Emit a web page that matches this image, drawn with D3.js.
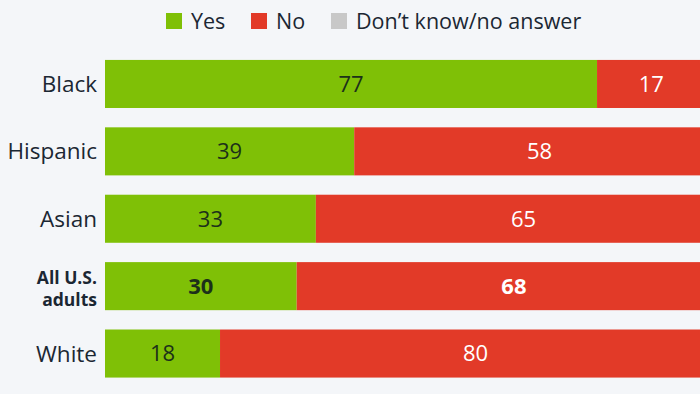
<!DOCTYPE html>
<html>
<head>
<meta charset="utf-8">
<script src="https://cdn.jsdelivr.net/npm/d3@7"></script>
<style>
  body { margin: 0; background: #f4f6f9; overflow: hidden; }
  svg { display: block; font-family: "Open Sans", sans-serif; }
</style>
</head>
<body>
<script>
// Chart data
var groups = ["Black", "Hispanic", "Asian", "All U.S. adults", "White"];
var yesValues = [77, 39, 33, 30, 18];
var noValues = [17, 58, 65, 68, 80];
var dkValues = [6, 3, 2, 2, 2];
var legendLabels = ["Yes", "No", "Don\u2019t know/no answer"];

var colors = ["#7fc006", "#e23a28", "#c8c8c8"];

var svgWidth = 700;
var svgHeight = 394;

var svg = d3.select("body")
  .append("svg")
  .attr("width", svgWidth)
  .attr("height", svgHeight);

// the plot runs past the right edge, as in the picture
var xScale = d3.scaleLinear()
  .domain([0, 100])
  .range([105, 744]);

var yScale = d3.scaleBand()
  .domain(groups)
  .range([50.5, 387])
  .paddingInner(0.287)
  .paddingOuter(0.14);

var rows = groups.map(function(g, i) {
  return { group: g, Yes: yesValues[i], No: noValues[i], DK: dkValues[i] };
});

var stack = d3.stack().keys(["Yes", "No", "DK"]);
var series = stack(rows);

var layers = svg.selectAll(".layer")
  .data(series)
  .enter()
  .append("g")
  .attr("fill", (d, i) => colors[i]);

layers.selectAll("rect")
  .data(d => d)
  .enter()
  .append("rect")
  .attr("x", d => xScale(d[0]))
  .attr("y", d => yScale(d.data.group))
  .attr("width", d => xScale(d[1]) - xScale(d[0]))
  .attr("height", yScale.bandwidth());

// value labels for Yes and No
series.slice(0, 2).forEach(function(s, si) {
  svg.selectAll(".val" + si)
    .data(s)
    .enter()
    .append("text")
    .attr("x", d => (xScale(d[0]) + xScale(d[1])) / 2)
    .attr("y", d => yScale(d.data.group) + yScale.bandwidth() / 2)
    .attr("dy", "0.36em")
    .attr("text-anchor", "middle")
    .style("font-size", "22px")
    .style("font-weight", d => d.data.group === "All U.S. adults" ? 700 : 400)
    .attr("fill", si === 0 ? "#1c301a" : "#ffffff")
    .text(d => d[1] - d[0]);
});

// category labels
groups.forEach(function(g) {
  var cy = yScale(g) + yScale.bandwidth() / 2;
  if (g === "All U.S. adults") {
    var t = svg.append("text")
      .attr("x", 97)
      .attr("y", cy)
      .attr("text-anchor", "end")
      .attr("fill", "#1b2733")
      .style("font-size", "17.5px")
      .style("font-weight", 700);
    t.append("tspan").attr("x", 97).attr("dy", "-0.14em").text("All U.S.");
    t.append("tspan").attr("x", 97).attr("dy", "1.3em").text("adults");
  } else {
    svg.append("text")
      .attr("x", 97)
      .attr("y", cy)
      .attr("dy", "0.36em")
      .attr("text-anchor", "end")
      .attr("fill", "#1b2733")
      .style("font-size", "22.5px")
      .text(g);
  }
});

// legend
var legendX = [166, 251, 331];
legendLabels.forEach(function(l, i) {
  svg.append("rect")
    .attr("x", legendX[i])
    .attr("y", 13)
    .attr("width", 16)
    .attr("height", 16)
    .attr("fill", colors[i]);
  svg.append("text")
    .attr("x", legendX[i] + 25)
    .attr("y", 21)
    .attr("dy", "0.36em")
    .attr("fill", "#1b2733")
    .style("font-size", "21.5px")
    .text(l);
});
</script>
</body>
</html>
